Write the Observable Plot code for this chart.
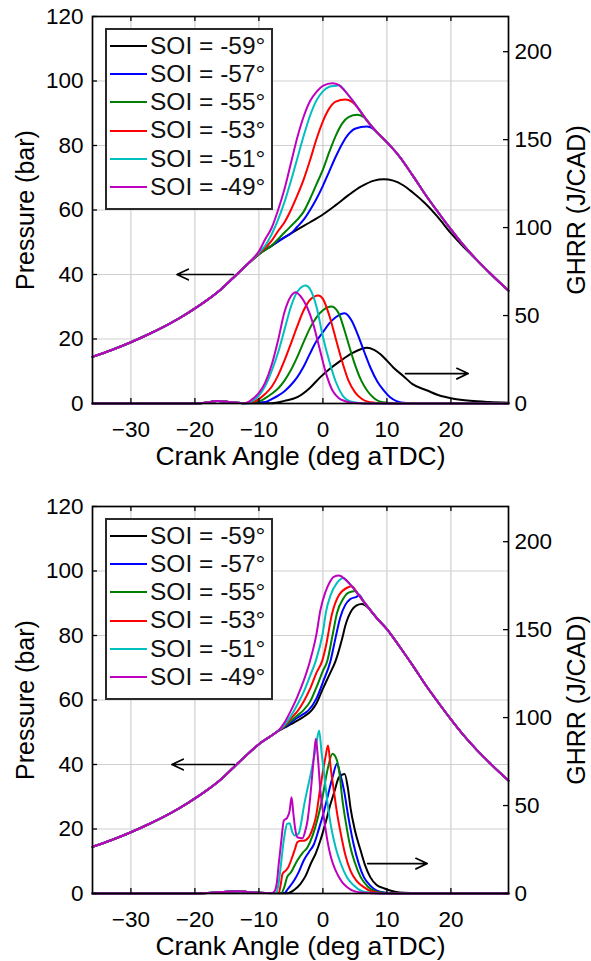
<!DOCTYPE html>
<html><head><meta charset="utf-8">
<script src="https://cdn.jsdelivr.net/npm/d3@7"></script>
<script src="https://cdn.jsdelivr.net/npm/@observablehq/plot@0.6"></script>
<style>
body{margin:0;background:#fff;font-family:"Liberation Sans",Arial,Helvetica,sans-serif;}
.panel{position:relative;width:591px;}
.legend{position:absolute;left:105px;width:164px;border:2px solid #2a2a2a;background:#fff;padding-top:2px;box-sizing:content-box;}
.legend .row{height:28.2px;display:flex;align-items:center;}
.legend .sw{width:37px;height:2px;margin-left:3px;margin-right:3px;}
.legend .tx{font-size:24.5px;color:#111;white-space:nowrap;line-height:1;}
g[aria-label="x-axis label"] text{font-size:26.5px;}
g[aria-label="y-axis label"] text{font-size:25px;}
</style></head><body><div id="c"></div><script>
// ---------- categories / ticks ----------
const soiLabels = ["SOI = -59°","SOI = -57°","SOI = -55°","SOI = -53°","SOI = -51°","SOI = -49°"];
const soiColors = ["#000000","#0000ff","#008000","#ff0000","#00bfbf","#bf00bf"];
const xTicks = [-30,-20,-10,0,10,20];
const pTicks = [0,20,40,60,80,100,120];
const gTicks = [0,50,100,150,200];

// ---------- TOP PANEL: pressure (bar) ----------
const topMotored = [[-36,14.5],[-33,16.6],[-30,19],[-27,21.7],[-24,24.7],[-21,28.2],[-18,32.2],[-16,35.3],[-14,39],[-12,42.8],[-11,44.6],[-10,46.3],[-8,49]];
const topMerged = [[1.5,99.3],[2.5,98.7],[3.5,96.8],[4.5,94.3],[5.5,91.6],[6.5,88.8],[7.5,86.2],[8.5,84],[10,81],[12,76.5],[14,70.8],[16,64.8],[18,59.3],[20,54],[22,49],[24,44.6],[26,40.6],[28,36.8],[29,35]];
const topP59 = [[-10,46.3],[-8,48.9],[-6,51.5],[-4,53.9],[-2,56.2],[0,58.6],[2,61.5],[4,64.6],[6,67.3],[8,69.1],[9.5,69.5],[11,69.1],[12.6,67.6],[14,65.5],[16,62],[18,57.7],[20,52.8],[22,48.5]];
const topP57 = [[-6,51.5],[-5,52.7],[-4,54.8],[-3,57],[-2,60],[-1,63.5],[0,67.5],[1,72],[2,76.5],[3,80.5],[4,83.5],[5,85.2],[6.9,85.9],[8,85]];
const topP55 = [[-8,49],[-6,53],[-5,55],[-4,57],[-3,59.5],[-2,63.5],[-1,68],[0,72.5],[1,78],[2,83],[3,86.8],[4,88.8],[5.4,89.5],[6.5,88.6]];
const topP53 = [[-10,46.5],[-8,50.5],[-7,53.5],[-6,56.2],[-5,60],[-4,64.5],[-3,69.5],[-2,75.5],[-1,82],[0,87.5],[1,91.5],[2,93.6],[3.5,94.3],[4.5,93.6]];
const topP51 = [[-11,44.7],[-10,46.8],[-9,49],[-8,52.5],[-7,57],[-6,62.5],[-5,69],[-4,76],[-3,83],[-2,89.3],[-1,94],[0,96.8],[1,98.2],[2.3,98.6]];
const topP49 = [[-11,44.8],[-10,47.2],[-9,51],[-8,54.5],[-7,60],[-6,66.5],[-5,74.5],[-4,82.5],[-3,89],[-2,93.8],[-1,96.6],[0,98.5],[1.5,99.3]];

// ---------- TOP PANEL: GHRR (J/CAD) ----------
const topGBase = [[-36,0],[-20,0],[-18,0.6],[-16.5,1.4],[-15,1.0],[-13.5,0.4],[-12.5,0.2]];
const topG59 = [[-8,0.2],[-6,1.5],[-4,3.6],[-2,9],[-0.4,15],[1,19.5],[2.8,24.4],[4.5,28.5],[6,31],[6.9,31.7],[8,30.5],[9,28],[10,24.4],[11,20.5],[12.6,15.5],[14,11],[16.3,7.4],[18,4.8],[20.4,2.7],[23,1.5],[26,0.8],[29,0.4]];
const topG57 = [[-9,0.8],[-8,2.5],[-7,4.5],[-6,7],[-5,10.5],[-4,15],[-3,21],[-2,28.5],[-1,35.5],[0,40.5],[1,45.5],[2,49],[3.4,51.3],[4.5,47],[5.4,39.6],[6.5,29],[7.4,20.6],[8.5,12.5],[9.5,7.4],[10.5,3.5],[11.6,1.2],[13,0.3],[15,0],[29,0]];
const topG55 = [[-10,1.2],[-9,3],[-8,5.5],[-7,8.5],[-6,13],[-5,19],[-4,26.5],[-3,35],[-2,43],[-1,49],[0,53],[1.35,55.1],[2.5,51],[3.3,42.5],[4,34],[4.8,24.4],[6,13],[6.9,7.4],[8,3],[9,1],[11,0.2],[13,0],[29,0]];
const topG53 = [[-11,0.8],[-10,2.5],[-9,5.5],[-8,9.5],[-7,16],[-6,24.5],[-5,34],[-4,44],[-3,53],[-2,59],[-0.7,61.4],[0,59.5],[1,50],[2,37],[3,24],[4,13],[5,6.5],[6,2.8],[7,1],[9,0.2],[11,0],[29,0]];
const topG51 = [[-12,0.2],[-11,1.5],[-10,4.5],[-9,10],[-8,18.5],[-7,29],[-6,42],[-5,55],[-4,63.5],[-2.7,67.1],[-2,65],[-1,55],[0,38],[1,24],[2,12.5],[3,5],[4.3,1.2],[6,0.2],[8,0],[29,0]];
const topG49 = [[-12,0.3],[-11,2.5],[-10,6],[-9,12],[-8,22],[-7,36],[-6,52],[-5,61],[-4.25,63.3],[-3.5,61],[-2.5,55],[-1.5,45],[-0.5,31],[0.5,17],[1.5,7.4],[2.5,3],[3.5,1.3],[5,0.3],[8,0],[29,0]];

// ---------- BOTTOM PANEL: pressure (bar) ----------
const botMotored = [[-36,14.5],[-33,16.6],[-30,19],[-27,21.7],[-24,24.7],[-21,28.2],[-18,32.2],[-16,35.3],[-14,39],[-12,42.8],[-10,46.3],[-8,49],[-7,50.4]];
const botMerged = [[2.5,98.6],[3.5,97.4],[4.5,95.3],[5.5,92.8],[6.5,90.2],[7.5,87.6],[8.5,85.2],[10,82],[12,76.5],[14,70.8],[16,64.8],[18,59.3],[20,54],[22,49],[24,44.6],[26,40.6],[28,36.8],[29,35]];
const botP59 = [[-6,51.4],[-5,52.5],[-4,53.6],[-3,54.8],[-1.8,56.7],[-1,59],[0,63.5],[1,67.8],[2,72.2],[3,79],[3.5,83],[4.5,87.8],[5.2,89.3],[6.1,89.8],[7,88.8],[8,86.4]];
const botP57 = [[-6,51.6],[-5,53],[-4,54.5],[-3,55.7],[-2.3,56.7],[-1,60.5],[0,65.5],[1.2,72.2],[2,79.5],[2.7,85.5],[3.5,89.5],[4.3,91.3],[5.4,92.2]];
const botP55 = [[-6,51.8],[-5,53.5],[-4,55.2],[-3.1,56.7],[-2,59.5],[-1,64],[0,69],[0.7,72.2],[1.5,80],[2.2,87],[3.2,91.5],[4,93.3],[5.1,93.8]];
const botP53 = [[-6,52],[-5,54.3],[-3.9,56.7],[-3,59.5],[-2,63.5],[-1,68.5],[-0.1,72.2],[0.5,77],[1.4,86.5],[2.5,92.5],[4,95]];
const botP51 = [[-6,52.3],[-5,55],[-4,58.5],[-3,62.5],[-2,67.5],[-1.1,72.2],[0,81],[0.5,87.5],[1.2,92.5],[2.2,96.3],[3.3,97.8]];
const botP49 = [[-6,53],[-5,56.7],[-4,61],[-3,66],[-2,72.2],[-1,80.5],[-0.4,87.8],[0.4,93.5],[1,96.3],[1.7,98.2]];

// ---------- BOTTOM PANEL: GHRR (J/CAD) ----------
const botGBase = [[-36,0],[-22,0],[-18,0.3],[-15,1],[-13,1.3],[-11,0.6],[-9,0.3]];
const botG59 = [[-5.5,0.2],[-4.5,2],[-3.5,5.5],[-2.7,10],[-1.9,16.9],[-1.1,23],[-0.4,30.1],[0.4,40],[1.2,51],[1.8,58],[2.5,66],[3.4,68],[3.9,60],[4.3,49],[5,36],[5.9,24.4],[6.6,16],[7.4,9.3],[8.4,4.8],[9.5,3],[10.5,1.7],[12,0.6],[14,0.2],[17,0],[29,0]];
const botG57 = [[-6,0.3],[-5.5,2.5],[-4.5,7.4],[-3.8,12],[-3,18.8],[-2.2,23.5],[-1.4,28],[-0.6,37],[0.2,47.2],[0.8,56],[1.5,66],[2.2,73.7],[2.7,68],[3.3,58.6],[4,43],[4.8,28],[5.6,17],[6.4,9.3],[7.4,4.5],[8.5,1.5],[10,0.4],[12,0],[29,0]];
const botG55 = [[-6.5,0.3],[-6,4],[-5.6,9.3],[-5,12],[-4,18.8],[-3.2,23],[-2.4,26.3],[-1.6,33],[-0.9,41.5],[0,56],[0.7,70],[1.5,79.4],[2.2,75.6],[2.6,68],[3,54.7],[3.6,40],[4.3,26.3],[5,17.5],[5.9,9.3],[7,4],[8,1.5],[9.5,0.4],[11,0],[29,0]];
const botG53 = [[-6.9,0.3],[-6.6,5],[-6.3,11.2],[-5.8,13],[-5.4,15],[-4.8,20.6],[-4.3,26],[-4,29.2],[-3.5,30],[-3,30],[-2.2,32],[-1.6,37],[-1.1,43.4],[-0.4,60.4],[0.4,77.5],[0.8,84.1],[1.2,72],[1.7,58.6],[2.2,46],[2.8,34],[3.5,22],[4.3,13],[5.2,7.5],[6.4,3.6],[7.5,1.3],[9,0.3],[11,0],[29,0]];
const botG51 = [[-7.3,0.3],[-7,4],[-6.6,15],[-6.3,25],[-6,33],[-5.6,39.6],[-5.2,40],[-4.8,35],[-4.4,33],[-3.8,34],[-3.4,40],[-3,49],[-2.5,58],[-1.9,68],[-1.1,83],[-0.6,92.7],[-0.2,80],[0.2,68],[0.7,52],[1.2,39.6],[2,26],[2.8,16.9],[3.8,9],[4.8,4.7],[6,1.5],[7.5,0.4],[9,0],[29,0]];
const botG49 = [[-8,0.2],[-7.6,1],[-7.2,6],[-6.9,16.9],[-6.5,30],[-6.1,41.5],[-5.6,43],[-5.2,47],[-4.9,54.7],[-4.6,45],[-4.3,36],[-4,32],[-3.2,31.4],[-2.8,35],[-2.4,41.5],[-2,54],[-1.65,68],[-1.3,82],[-1.1,88],[-0.8,78],[-0.4,58.6],[0.2,42],[0.7,30.1],[1.3,20],[2,13],[3,6.5],[3.8,3.6],[5,1.2],[6.5,0.4],[9,0],[29,0]];

// ---------- annotation arrows: [from x, to x, value, axis] ----------
const topArrows = [[-14.0,-22.8,40,"p"],[12.9,22.7,17,"g"]];
const botArrows = [[-13.8,-23.6,40,"p"],[7.0,16.3,17,"g"]];

// ---------- assemble ----------
const G2P = 120/220; // GHRR axis (0–220) shares the frame with pressure axis (0–120)
function assemble(lead, own, tail) {
  const x0 = own[0][0], x1 = own[own.length-1][0];
  return [...lead.filter(d => d[0] < x0), ...own, ...(tail ? tail.filter(d => d[0] > x1) : [])];
}
function rows(seriesList, lead, tail, factor) {
  const out = [];
  seriesList.forEach((s, i) => assemble(lead, s, tail).forEach(([x, v]) => out.push({soi: soiLabels[i], x, y: v*factor})));
  return out;
}
function arrowRows(list) {
  return list.map(([a, b, v, ax]) => ({x1: a, x2: b, y: ax === "p" ? v : v*G2P}));
}

const FRAME_W = 591 - 92 - 83, FRAME_H = 387, TICK = 5;

function panel(pRows, gRows, aRows, height, marginTop, marginBottom) {
  const grid = {stroke: "#cfcfcf", strokeOpacity: 1, strokeWidth: 1.2};
  const gTickVals = gTicks.map(g => g*G2P);
  return Plot.plot({
    width: 591, height, marginTop, marginBottom, marginLeft: 92, marginRight: 83,
    style: {fontFamily: "'Liberation Sans', Arial, Helvetica, sans-serif", fontSize: "22.5px", color: "#000", background: "#fff", overflow: "visible"},
    x: {domain: [-36, 29]},
    y: {domain: [0, 120]},
    color: {domain: soiLabels, range: soiColors},
    marks: [
      Plot.gridX(xTicks, grid),
      Plot.gridY(pTicks, grid),
      Plot.line(gRows, {x: "x", y: "y", z: "soi", stroke: "soi", curve: "monotone-x", strokeWidth: 2}),
      Plot.line(pRows, {x: "x", y: "y", z: "soi", stroke: "soi", curve: "monotone-x", strokeWidth: 2}),
      Plot.arrow(aRows, {x1: "x1", y1: "y", x2: "x2", y2: "y", stroke: "#000", strokeWidth: 1.7, headLength: 11, headAngle: 50}),
      // inward ticks on all four sides
      Plot.tickX(xTicks, {x: d => d, stroke: "#000", strokeWidth: 1.3, insetTop: FRAME_H - TICK}),
      Plot.tickX(xTicks, {x: d => d, stroke: "#000", strokeWidth: 1.3, insetBottom: FRAME_H - TICK}),
      Plot.tickY(pTicks, {y: d => d, stroke: "#000", strokeWidth: 1.3, insetRight: FRAME_W - TICK}),
      Plot.tickY(gTickVals, {y: d => d, stroke: "#000", strokeWidth: 1.3, insetLeft: FRAME_W - TICK}),
      Plot.frame({stroke: "#000", strokeWidth: 1.7}),
      Plot.axisX(xTicks, {anchor: "bottom", tickSize: 0, tickPadding: 18, label: "Crank Angle (deg aTDC)", labelArrow: "none", labelAnchor: "center", labelOffset: 61}),
      Plot.axisY(pTicks, {anchor: "left", tickSize: 0, tickPadding: 9, label: "Pressure (bar)", labelArrow: "none", labelAnchor: "center", labelOffset: 76}),
      Plot.axisY(gTickVals, {anchor: "right", tickSize: 0, tickPadding: 6, tickFormat: d => String(Math.round(d/G2P)), label: "GHRR (J/CAD)", labelArrow: "none", labelAnchor: "center", labelOffset: 76})
    ]
  });
}

function legend(top) {
  const el = document.createElement("div");
  el.className = "legend";
  el.style.top = top + "px";
  soiLabels.forEach((lab, i) => {
    const r = document.createElement("div"); r.className = "row";
    const s = document.createElement("div"); s.className = "sw"; s.style.background = soiColors[i];
    const t = document.createElement("div"); t.className = "tx"; t.textContent = lab;
    r.append(s, t); el.append(r);
  });
  el.style.height = "176px";
  return el;
}

const c = document.getElementById("c");
const p1 = document.createElement("div"); p1.className = "panel";
p1.append(panel(
  rows([topP59, topP57, topP55, topP53, topP51, topP49], topMotored, topMerged, 1),
  rows([topG59, topG57, topG55, topG53, topG51, topG49], topGBase, null, G2P),
  arrowRows(topArrows), 480, 16, 77));
p1.append(legend(28));
const p2 = document.createElement("div"); p2.className = "panel";
p2.append(panel(
  rows([botP59, botP57, botP55, botP53, botP51, botP49], botMotored, botMerged, 1),
  rows([botG59, botG57, botG55, botG53, botG51, botG49], botGBase, null, G2P),
  arrowRows(botArrows), 481, 26, 68));
p2.append(legend(38));
c.append(p1, p2);
</script></body></html>
